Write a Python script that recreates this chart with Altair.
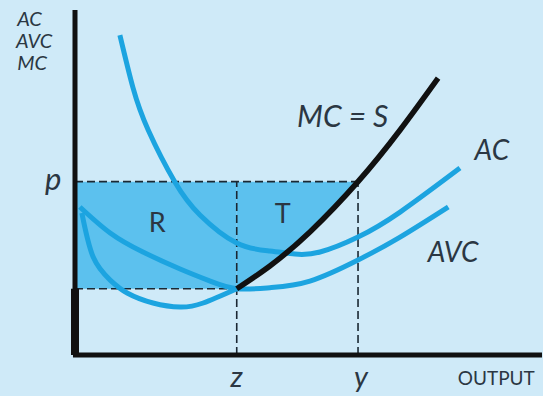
import altair as alt
import pandas as pd

# Short-run cost curves: output on x, cost per unit on y
ac_x = [1.11, 1.43, 1.81, 2.47, 3.09, 4.0, 4.82, 5.44, 6.06, 7.0, 8.04, 9.52]
ac_v = [18.82, 15.76, 13.24, 10.18, 8.24, 6.59, 6.12, 5.94, 6.06, 6.94, 8.41, 11.0]

avc_x = [0.12, 0.87, 1.68, 2.60, 3.34, 4.0, 4.82, 5.81, 7.0, 8.04, 9.23]
avc_v = [8.71, 7.18, 6.06, 5.06, 4.35, 3.9, 3.96, 4.35, 5.59, 6.94, 8.71]

# marginal cost below the shutdown point
mc_x = [0.17, 0.45, 0.87, 1.29, 1.93, 2.60, 3.17, 4.0]
mc_v = [8.35, 5.76, 4.41, 3.65, 3.06, 2.82, 3.06, 3.9]

# marginal cost above minimum AVC = supply curve
supply_x = [4.0, 4.82, 5.81, 7.0, 8.04, 8.98]
supply_v = [3.9, 5.24, 7.24, 10.2, 13.24, 16.29]

p = 10.2        # market price
z = 4.0         # shutdown output (min AVC)
y_out = 7.0     # output where MC = p
avc_min = 3.9

BG = "#cfeaf8"
SHADE = "#5cc1ee"
CURVE = "#1ca4e0"
INK = "#2b3743"
DASH = "#1b2833"

xs = alt.Scale(domain=[0, 11.55])
ys = alt.Scale(domain=[0, 20.3])


def X(field="x"):
    return alt.X(f"{field}:Q", scale=xs, axis=None)


def Y(field="v"):
    return alt.Y(f"{field}:Q", scale=ys, axis=None)


def frame(xv, vv):
    return pd.DataFrame({"x": xv, "v": vv})


# shaded areas R and T
rect_R = alt.Chart(pd.DataFrame({"x": [0], "x2": [z], "v": [avc_min], "v2": [p]})).mark_rect(
    color=SHADE
).encode(x=X(), x2="x2:Q", y=Y(), y2="v2:Q")

t_part = [(a, b) for a, b in zip(supply_x, supply_v) if a <= y_out]
t_df = pd.DataFrame({"x": [a for a, _ in t_part], "v": [b for _, b in t_part], "top": p})
area_T = alt.Chart(t_df).mark_area(color=SHADE, interpolate="natural").encode(
    x=X(), y=Y(), y2="top:Q"
)

# dashed guides
guides = pd.DataFrame({
    "x": [0, z, y_out, 0],
    "x2": [y_out, z, y_out, z],
    "v": [p, 0, 0, avc_min],
    "v2": [p, p, p, avc_min],
})
dashed = alt.Chart(guides).mark_rule(color=DASH, strokeWidth=1.6, strokeDash=[8, 4]).encode(
    x=X(), x2="x2:Q", y=Y(), y2="v2:Q"
)


def curve(xv, vv, color, width=5):
    return alt.Chart(frame(xv, vv)).mark_line(
        color=color, strokeWidth=width, interpolate="natural", strokeCap="butt"
    ).encode(x=X(), y=Y(), order="x:Q")


ac_line = curve(ac_x, ac_v, CURVE)
avc_line = curve(avc_x, avc_v, CURVE)
mc_line = curve(mc_x, mc_v, CURVE)
supply_line = curve(supply_x, supply_v, "#111111", 5.5)

# axes drawn as heavy rules
axes_df = pd.DataFrame({"x": [0, -0.05], "x2": [0, 11.55], "v": [0, 0], "v2": [20.3, 0]})
axes = alt.Chart(axes_df).mark_rule(color="#111111", strokeWidth=5).encode(
    x=X(), x2="x2:Q", y=Y(), y2="v2:Q"
)
# supply runs up the price axis below the shutdown price
shut = alt.Chart(pd.DataFrame({"x": [0], "v": [0], "v2": [avc_min]})).mark_rule(
    color="#111111", strokeWidth=8
).encode(x=X(), y=Y(), y2="v2:Q")

# text labels
left_labels = pd.DataFrame({
    "x": [-1.43, -1.46, -1.43],
    "v": [19.35, 18.05, 16.75],
    "t": ["AC", "AVC", "MC"],
})
italic_labels = pd.DataFrame({
    "x": [-0.54, 6.62, 10.31, 9.35, z, y_out + 0.07],
    "v": [9.7, 13.41, 11.47, 5.47, -1.88, -1.88],
    "t": ["p", "MC = S", "AC", "AVC", "z", "y"],
    "s": [31, 30, 28, 28, 29, 29],
})
plain_labels = pd.DataFrame({
    "x": [2.03, 5.14, 10.42],
    "v": [7.24, 7.76, -1.76],
    "t": ["R", "T", "OUTPUT"],
    "s": [27, 27, 19],
})

txt_left = alt.Chart(left_labels).mark_text(
    align="left", baseline="alphabetic", font="Lato", fontStyle="italic", fontSize=20, color=INK
).encode(x=X(), y=Y(), text="t:N")
txt_italic = alt.Chart(italic_labels).mark_text(
    align="center", baseline="alphabetic", font="Lato", fontStyle="italic", color=INK
).encode(x=X(), y=Y(), text="t:N", size=alt.Size("s:Q", scale=None, legend=None))
txt_plain = alt.Chart(plain_labels).mark_text(
    align="center", baseline="alphabetic", font="Lato", color=INK
).encode(x=X(), y=Y(), text="t:N", size=alt.Size("s:Q", scale=None, legend=None))

chart = alt.layer(
    rect_R, area_T, dashed, ac_line, avc_line, mc_line, supply_line, axes, shut,
    txt_left, txt_italic, txt_plain,
).properties(
    width=467, height=345,
    autosize=alt.AutoSizeParams(type="none"),
    padding={"left": 75, "top": 10, "right": 1, "bottom": 41},
    background=BG,
).configure_view(stroke=None)

chart.save("out.html", embed_options={"renderer": "svg", "actions": False})
